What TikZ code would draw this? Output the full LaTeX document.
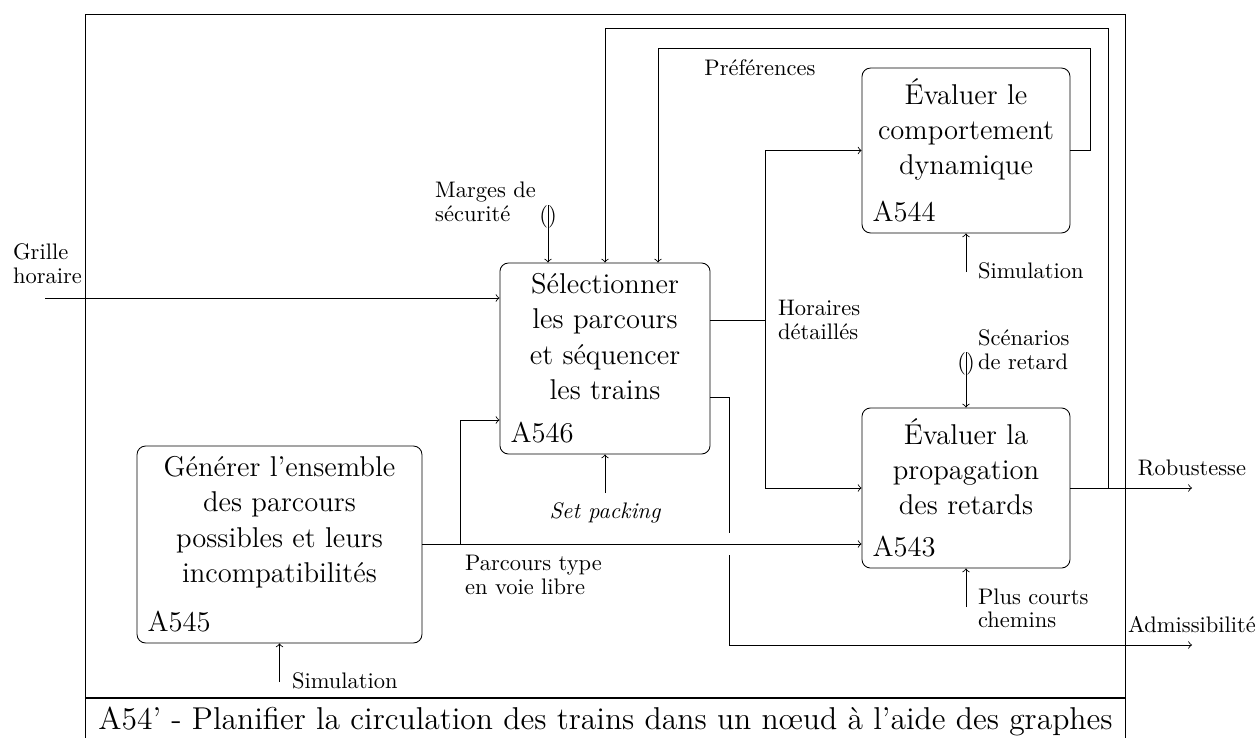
\documentclass[tikz,border=0pt]{standalone}
\usepackage{fontspec}
\usepackage{tikz}
\tikzstyle{actbox} = [draw, rounded corners, inner sep=0pt]
\tikzstyle{acttext} = [font=\fontsize{13.5}{16.6}\selectfont, align=center, anchor=north, inner sep=5pt]
\tikzstyle{actid} = [font=\fontsize{13.5}{16.6}\selectfont, anchor=south west, inner sep=5pt]
\tikzstyle{flowlabel} = [font=\fontsize{10.6}{11.2}\selectfont, align=left]
\tikzstyle{tunnel} = [font=\fontsize{10.6}{11.2}\selectfont, inner sep=0pt, anchor=north]
\begin{document}
\begin{tikzpicture}[x=0.4717pt, y=-0.4717pt]
\useasboundingbox (0,0) rectangle (1259,738);
\node[draw, anchor=north west, minimum width=490.6pt, minimum height=322.2pt] (frame) at (85,14) {};
\node[draw, anchor=north west, minimum width=490.6pt, inner ysep=4.1pt, text height=10.5pt, text depth=3pt, font=\fontsize{14.9}{18}\selectfont] (title) at (frame.south west) {A54' - Planifier la circulation des trains dans un nœud à l'aide des graphes};

\node[actbox, minimum width=99.1pt, minimum height=90.1pt] (A546) at (605,358.5) {};
\node[acttext] (A546t) at (A546.north) {Sélectionner\\les parcours\\et séquencer\\les trains};
\node[actid] (A546i) at (A546.south west) {A546};
\node[actbox, minimum width=98.1pt, minimum height=77.8pt] (A544) at (966,150.5) {};
\node[acttext] (A544t) at (A544.north) {Évaluer le\\comportement\\dynamique};
\node[actid] (A544i) at (A544.south west) {A544};
\node[actbox, minimum width=98.1pt, minimum height=75.5pt] (A543) at (966,488) {};
\node[acttext] (A543t) at (A543.north) {Évaluer la\\propagation\\des retards};
\node[actid] (A543i) at (A543.south west) {A543};
\node[actbox, minimum width=134.4pt, minimum height=92.9pt] (A545) at (279.5,544.5) {};
\node[acttext] (A545t) at (A545.north) {Générer l'ensemble\\des parcours\\possibles et leurs\\incompatibilités};
\node[actid] (A545i) at (A545.south west) {A545};

\coordinate (gh) at (45,298);
\draw[->] (gh) -- (gh -| A546.west);
\node[flowlabel, anchor=south west] (ghL) at (5.6,291.4) {Grille\\horaire};

\coordinate (ms) at (548,205);
\draw[->] (ms) -- (ms |- A546.north);
\node[tunnel] (msT) at (ms) {()};
\node[flowlabel, anchor=south east] (msL) at (543.4,229.4) {Marges de\\sécurité};

\coordinate (rb) at (1108,488);
\coordinate (topA) at (0,28);
\draw[->] (rb) -- (rb |- topA) -| (A546.north);
\coordinate (pfr) at (1090,48);
\coordinate (pf) at (658,48);
\draw[->] (A544.east) -| (pfr) -- (pf) -- (pf |- A546.north);
\node[flowlabel, anchor=west] (pfL) at (697,68) {Préférences};

\coordinate (hd) at (765,320);
\draw (A546.east |- hd) -- (hd);
\draw[->] (hd) |- (A544.west);
\draw[->] (hd) |- (A543.west);
\node[flowlabel, anchor=north west] (hdL) at (770.6,293) {Horaires\\détaillés};

\coordinate (rbEnd) at (1192,488);
\draw[->] (A543.east) -- (rbEnd);
\node[flowlabel, anchor=south] (rbL) at (1192,483.4) {Robustesse};

\coordinate (pt) at (460,544);
\coordinate (pin) at (460,420);
\draw[->] (A545.east |- pt) -- (pt -| A543.west);
\draw[->] (pt) -- (pin) -- (pin -| A546.west);
\node[flowlabel, anchor=north west] (ptL) at (457.6,548) {Parcours type\\en voie libre};

\coordinate (ad) at (729,397);
\coordinate (jmp) at (ad |- pt);
\coordinate (adEnd) at (1192,645);
\draw (A546.east |- ad) -- (ad) -- ([yshift=5.4pt]jmp);
\draw[->] ([yshift=-5.4pt]jmp) |- (adEnd);
\node[flowlabel, anchor=south] (adL) at (1192,640.4) {Admissibilité};

\coordinate (sp) at (605,493);
\draw[->] (sp) -- (A546.south);
\node[flowlabel, anchor=north, font=\fontsize{10.6}{11.2}\selectfont\itshape] (spL) at (605,495) {Set packing};

\coordinate (sm1) at (966,272);
\draw[->] (sm1) -- (A544.south);
\node[flowlabel, anchor=base west] (sm1L) at (970.6,278) {Simulation};

\coordinate (sc) at (966,352);
\draw[->] (sc) -- (A543.north);
\node[tunnel] (scT) at (sc) {()};
\node[flowlabel, anchor=north west] (scL) at (970.6,322) {Scénarios\\de retard};

\coordinate (pc) at (966,607);
\draw[->] (pc) -- (A543.south);
\node[flowlabel, anchor=north west] (pcL) at (970.6,581) {Plus courts\\chemins};

\coordinate (sm2) at (279.5,682);
\draw[->] (sm2) -- (A545.south);
\node[flowlabel, anchor=base west] (sm2L) at (284.6,688) {Simulation};
\end{tikzpicture}
\end{document}
